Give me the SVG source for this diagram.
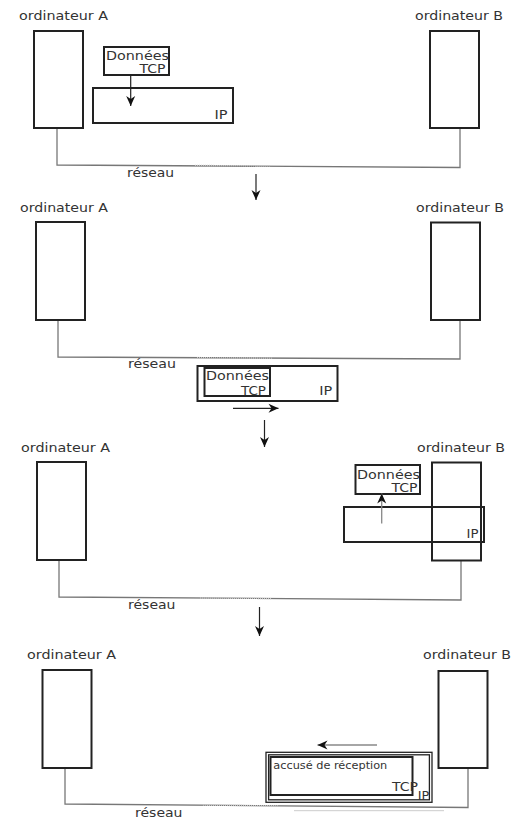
<svg xmlns="http://www.w3.org/2000/svg" width="522" height="820" viewBox="0 0 522 820">
<style>
text{font-family:"DejaVu Sans","Liberation Sans",sans-serif;fill:#333}
.lbl{font-size:12px}
.pk{font-size:13px}
.pt{font-size:11.5px}
.sm{font-size:10.5px}
.comp{fill:#fff;stroke:#222;stroke-width:2}
.box{fill:#fff;stroke:#222;stroke-width:2}
.open{fill:none;stroke:#222;stroke-width:2}
.net{fill:none;stroke:#777;stroke-width:1.3}
.netlight{fill:none;stroke:#c4c4c4;stroke-width:1.3;stroke-dasharray:1 1}
.arr{fill:none;stroke:#222;stroke-width:1.2;marker-end:url(#ah)}
.arrg{fill:none;stroke:#888;stroke-width:1.3;marker-end:url(#ah)}
</style>
<defs>
<marker id="ah" viewBox="-11 -5 12 10" refX="0" refY="0" markerWidth="12" markerHeight="10" markerUnits="userSpaceOnUse" orient="auto">
<path d="M0,0 L-10,-4.5 L-7,0 L-10,4.5 Z" fill="#111"/>
</marker>
</defs>
<rect width="522" height="820" fill="#fff"/>

<g id="connectors">
<polyline class="net" points="57,128 57,165 460,167.5 460,129"/>
<line class="netlight" x1="195" y1="165.4" x2="270" y2="165.9"/>
<polyline class="net" points="58,320 58,357 460,359 460,320"/>
<line class="netlight" x1="197" y1="357.7" x2="272" y2="358.1"/>
<polyline class="net" points="59,560 59,597 461,600 461,561"/>
<line class="netlight" x1="200" y1="598" x2="272" y2="598.6"/>
<polyline class="net" points="65,768 65,804 468,807.5 468,768"/>
<line class="netlight" x1="203" y1="805.2" x2="278" y2="805.8"/>
<line x1="294" y1="810.7" x2="444" y2="810.7" stroke="#ccc" stroke-width="1"/>
<line class="arr" x1="256" y1="174" x2="256" y2="200"/>
<line class="arr" x1="264.5" y1="420" x2="264.5" y2="447"/>
<line class="arr" x1="259.5" y1="607" x2="259.5" y2="636"/>
</g>

<g id="panel1">
<g id="p1-computerA">
<text class="lbl" x="19" y="20" textLength="89" lengthAdjust="spacingAndGlyphs">ordinateur A</text>
<rect class="comp" x="34" y="31" width="49" height="97"/>
</g>
<g id="p1-computerB">
<text class="lbl" x="415" y="20" textLength="88" lengthAdjust="spacingAndGlyphs">ordinateur B</text>
<rect class="comp" x="430" y="31" width="49" height="97"/>
</g>
<g id="p1-tcp">
<rect class="box" x="104" y="47" width="65" height="28"/>
<text class="pt" x="106" y="60" textLength="63" lengthAdjust="spacingAndGlyphs">Données</text>
<text class="pt" x="139.5" y="73" textLength="26" lengthAdjust="spacingAndGlyphs">TCP</text>
</g>
<g id="p1-ip">
<rect class="box" x="93" y="88" width="140" height="35"/>
<text class="pk" x="214.5" y="119" textLength="13" lengthAdjust="spacingAndGlyphs">IP</text>
</g>
<line class="arr" x1="130.7" y1="75" x2="130.7" y2="106"/>
<text class="lbl" id="p1-reseau" x="127" y="177" textLength="47" lengthAdjust="spacingAndGlyphs">réseau</text>
</g>

<g id="panel2">
<g id="p2-computerA">
<text class="lbl" x="20" y="211.5" textLength="88" lengthAdjust="spacingAndGlyphs">ordinateur A</text>
<rect class="comp" x="36" y="222" width="49" height="98"/>
</g>
<g id="p2-computerB">
<text class="lbl" x="416" y="211.5" textLength="88" lengthAdjust="spacingAndGlyphs">ordinateur B</text>
<rect class="comp" x="431" y="222.5" width="49" height="97.5"/>
</g>
<g id="p2-packet">
<rect class="box" x="197.5" y="366" width="140" height="35" stroke-width="2.5"/>
<rect class="box" x="204.5" y="368" width="65.5" height="28"/>
<text class="pt" x="206" y="380" textLength="63" lengthAdjust="spacingAndGlyphs">Données</text>
<text class="pt" x="241" y="394.5" textLength="25" lengthAdjust="spacingAndGlyphs">TCP</text>
<text class="pk" x="319.3" y="395" textLength="13" lengthAdjust="spacingAndGlyphs">IP</text>
</g>
<line class="arr" x1="233" y1="408.3" x2="278.5" y2="408.3"/>
<text class="lbl" id="p2-reseau" x="128" y="368" textLength="48" lengthAdjust="spacingAndGlyphs">réseau</text>
</g>

<g id="panel3">
<g id="p3-computerA">
<text class="lbl" x="21" y="451.5" textLength="89" lengthAdjust="spacingAndGlyphs">ordinateur A</text>
<rect class="comp" x="37" y="462" width="49" height="98"/>
</g>
<g id="p3-computerB">
<text class="lbl" x="417" y="451.5" textLength="88" lengthAdjust="spacingAndGlyphs">ordinateur B</text>
<rect class="open" x="432" y="462.5" width="49" height="98"/>
</g>
<g id="p3-ip">
<rect class="open" x="344" y="507" width="140" height="35"/>
<text class="pk" x="466.5" y="538" textLength="12" lengthAdjust="spacingAndGlyphs">IP</text>
</g>
<g id="p3-tcp">
<rect class="box" x="355.5" y="465" width="64.5" height="29"/>
<text class="pt" x="357" y="478.5" textLength="63" lengthAdjust="spacingAndGlyphs">Données</text>
<text class="pt" x="391.5" y="491.5" textLength="26" lengthAdjust="spacingAndGlyphs">TCP</text>
</g>
<line class="arrg" x1="381.7" y1="523.5" x2="381.7" y2="493.5"/>
<text class="lbl" id="p3-reseau" x="128" y="609" textLength="47.5" lengthAdjust="spacingAndGlyphs">réseau</text>
</g>

<g id="panel4">
<g id="p4-computerA">
<text class="lbl" x="27" y="659" textLength="89" lengthAdjust="spacingAndGlyphs">ordinateur A</text>
<rect class="comp" x="42.5" y="670" width="49" height="98"/>
</g>
<g id="p4-computerB">
<text class="lbl" x="423" y="658.5" textLength="88" lengthAdjust="spacingAndGlyphs">ordinateur B</text>
<rect class="comp" x="438.5" y="671" width="49" height="97"/>
</g>
<g id="p4-packet">
<rect x="266" y="752.3" width="166" height="50" fill="#fff" stroke="#222" stroke-width="1.3"/>
<rect x="268.6" y="754.8" width="160.8" height="45" fill="none" stroke="#222" stroke-width="1.3"/>
<rect class="box" x="270.5" y="757" width="142" height="38"/>
<text class="sm" x="273.3" y="769" textLength="114" lengthAdjust="spacingAndGlyphs">accusé de réception</text>
<text class="pk" x="392" y="790.5" textLength="26" lengthAdjust="spacingAndGlyphs">TCP</text>
<text class="pk" x="417.7" y="800" textLength="11.5" lengthAdjust="spacingAndGlyphs">IP</text>
</g>
<line class="arrg" x1="377" y1="745" x2="317.5" y2="745"/>
<text class="lbl" id="p4-reseau" x="135" y="816.5" textLength="47.5" lengthAdjust="spacingAndGlyphs">réseau</text>
</g>
</svg>
